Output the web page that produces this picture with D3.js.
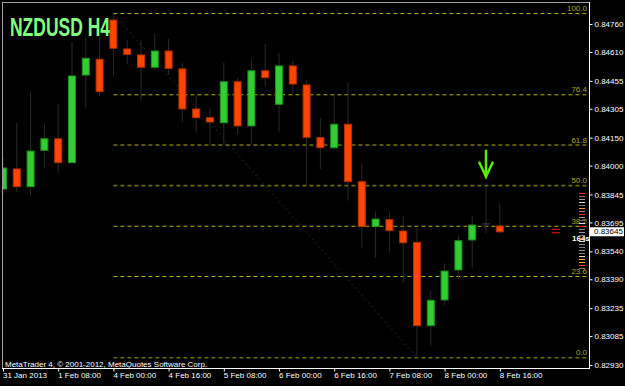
<!DOCTYPE html>
<html>
<head>
<meta charset="utf-8">
<script src="https://cdn.jsdelivr.net/npm/d3@7"></script>
<style>
  body { margin: 0; background: #000; }
  svg { display: block; font-family: "Liberation Sans", Arial, sans-serif; }
</style>
</head>
<body>
<div class="chart"></div>
<script>
// NZDUSD H4 bars, 31 Jan 16:00 -> 8 Feb 16:00
var opens  = [0.83874, 0.83982, 0.83887, 0.84082, 0.84144, 0.84016, 0.84486, 0.84571, 0.84781, 0.84626,
              0.84594, 0.84528, 0.84615, 0.84519, 0.84304, 0.84257, 0.84230, 0.84450, 0.84213, 0.84509,
              0.84329, 0.84535, 0.84433, 0.84150, 0.84096, 0.84222, 0.83914, 0.83673, 0.83710, 0.83649,
              0.83588, 0.83141, 0.83279, 0.83440, 0.83601, 0.83687, 0.83676];
var highs  = [0.84041, 0.84229, 0.84397, 0.84229, 0.84331, 0.84665, 0.84686, 0.84692, 0.84816, 0.84674,
              0.84674, 0.84710, 0.84680, 0.84552, 0.84379, 0.84311, 0.84552, 0.84470, 0.84571, 0.84653,
              0.84606, 0.84563, 0.84459, 0.84254, 0.84379, 0.84445, 0.84012, 0.83754, 0.83749, 0.83731,
              0.83669, 0.83329, 0.83476, 0.83628, 0.83730, 0.83887, 0.83794];
var lows   = [0.83848, 0.83858, 0.83837, 0.83987, 0.83960, 0.84014, 0.84309, 0.84374, 0.84477, 0.84544,
              0.84348, 0.84513, 0.84486, 0.84236, 0.84177, 0.84111, 0.84116, 0.84168, 0.84116, 0.84424,
              0.84182, 0.84374, 0.83896, 0.83980, 0.84084, 0.83812, 0.83559, 0.83506, 0.83538, 0.83372,
              0.82969, 0.83037, 0.83252, 0.83390, 0.83452, 0.83637, 0.83638];
var closes = [0.83987, 0.83887, 0.84078, 0.84144, 0.84016, 0.84481, 0.84576, 0.84397, 0.84630, 0.84597,
              0.84528, 0.84615, 0.84522, 0.84304, 0.84257, 0.84234, 0.84450, 0.84213, 0.84509, 0.84472,
              0.84535, 0.84438, 0.84152, 0.84096, 0.84222, 0.83914, 0.83673, 0.83713, 0.83651, 0.83586,
              0.83141, 0.83277, 0.83434, 0.83597, 0.83681, 0.83687, 0.83645];

var timeLabels = ["31 Jan 2013", "1 Feb 08:00", "4 Feb 00:00", "4 Feb 16:00", "5 Feb 08:00",
                  "6 Feb 00:00", "6 Feb 16:00", "7 Feb 08:00", "8 Feb 00:00", "8 Feb 16:00"];
var labelBars = [0, 4, 8, 12, 16, 20, 24, 28, 32, 36];
var priceTicks = [0.84760, 0.84610, 0.84455, 0.84305, 0.84150, 0.84000, 0.83845,
                  0.83695, 0.83540, 0.83390, 0.83235, 0.83085, 0.82930];

var fibLevels = [100, 76.4, 61.8, 50, 38.2, 23.6, 0];
var fibFrom = 8, fibTo = 30;   // swing high bar, swing low bar
var signalBar = 35;            // bar with the green down arrow
var lastPrice = 0.83645;
var tickCounter = "164s";
var depthColors = ["#ff2020", "#777", "#999", "#ddd", "#777", "#ffa020", "#888", "#ff2020", "#999",
                   "#777", "#ddd", "#ff2020", "#888", "#999", "#777", "#ff2020", "#ddd", "#888",
                   "#777", "#999", "#888", "#ddd", "#ffa020", "#ffa020", "#ff4020", "#777"];

// setup
var W = 625, H = 386;
var chart = {left: 2, top: 2, right: 589, bottom: 368.5};

var x = d3.scaleLinear().domain([0, 36]).range([3, 3 + 36 * 13.8]);
var y = d3.scaleLinear().domain([0.82930, 0.84760]).range([365, 24]);

var bars = opens.map(function(o, i) {
  return {i: i, o: o, h: highs[i], l: lows[i], c: closes[i]};
});

var svg = d3.select(".chart").append("svg")
    .attr("width", W)
    .attr("height", H);

svg.append("rect").attr("width", W).attr("height", H).attr("fill", "#000");

svg.append("clipPath").attr("id", "plot")
  .append("rect")
    .attr("x", 3).attr("y", 3)
    .attr("width", chart.right - 3).attr("height", chart.bottom - 3);

var plot = svg.append("g").attr("clip-path", "url(#plot)");

// fibonacci retracement
var fibHi = highs[fibFrom], fibLo = lows[fibTo];
var fibPrice = function(lv) { return fibLo + (fibHi - fibLo) * lv / 100; };
var dimLevels = [50, 0];

plot.append("line")
    .attr("x1", x(fibFrom)).attr("y1", y(fibHi))
    .attr("x2", x(fibTo)).attr("y2", y(fibLo))
    .attr("stroke", "#2a2a2a")
    .attr("stroke-dasharray", "2,3");

plot.selectAll(".fib")
    .data(fibLevels)
  .enter().append("line")
    .attr("class", "fib")
    .attr("x1", x(fibFrom))
    .attr("x2", chart.right - 1)
    .attr("y1", function(d) { return y(fibPrice(d)); })
    .attr("y2", function(d) { return y(fibPrice(d)); })
    .attr("stroke", function(d) { return dimLevels.indexOf(d) >= 0 ? "#6a6a00" : "#b4b400"; })
    .attr("stroke-width", function(d) { return dimLevels.indexOf(d) >= 0 ? 1.6 : 1; })
    .attr("stroke-dasharray", "4,3");

plot.selectAll(".fibLabel")
    .data(fibLevels)
  .enter().append("text")
    .attr("class", "fibLabel")
    .attr("x", chart.right - 2)
    .attr("y", function(d) { return y(fibPrice(d)) - 2.5; })
    .attr("text-anchor", "end")
    .attr("font-size", 8)
    .attr("fill", "#a8a820")
    .text(function(d) { return d.toFixed(1); });

// wicks
plot.selectAll(".wick")
    .data(bars)
  .enter().append("line")
    .attr("class", "wick")
    .attr("x1", function(d) { return x(d.i); })
    .attr("x2", function(d) { return x(d.i); })
    .attr("y1", function(d) { return y(d.h); })
    .attr("y2", function(d) { return y(d.l); })
    .attr("stroke", "#2a2a2a");

// bodies
plot.selectAll(".body")
    .data(bars.filter(function(d) { return d.o !== d.c; }))
  .enter().append("rect")
    .attr("class", "body")
    .attr("x", function(d) { return x(d.i) - 3.5; })
    .attr("width", 7)
    .attr("y", function(d) { return y(Math.max(d.o, d.c)); })
    .attr("height", function(d) { return Math.abs(y(d.o) - y(d.c)); })
    .attr("fill", function(d) { return d.c > d.o ? "#32cd32" : "#ff4500"; })
    .attr("stroke", function(d) { return d.c > d.o ? "#1f8f1f" : "#b03000"; })
    .attr("stroke-width", 1);

// doji
plot.selectAll(".doji")
    .data(bars.filter(function(d) { return d.o === d.c; }))
  .enter().append("line")
    .attr("class", "doji")
    .attr("x1", function(d) { return x(d.i) - 4; })
    .attr("x2", function(d) { return x(d.i) + 4; })
    .attr("y1", function(d) { return y(d.c); })
    .attr("y2", function(d) { return y(d.c); })
    .attr("stroke", "#444");

// signal arrow
var ax = x(signalBar), atip = y(highs[signalBar]) - 10;
plot.append("path")
    .attr("d", "M" + ax + "," + (atip - 27) + "V" + atip +
               "M" + (ax - 7) + "," + (atip - 15) + "L" + ax + "," + atip + "L" + (ax + 7) + "," + (atip - 15))
    .attr("fill", "none")
    .attr("stroke", "#5ee800")
    .attr("stroke-width", 2.5);

// bid/ask marks and tick strip near the right edge
var ly = y(lastPrice);
[-2.5, 1].forEach(function(off) {
  plot.append("line")
      .attr("x1", 552).attr("x2", 560)
      .attr("y1", ly + off).attr("y2", ly + off)
      .attr("stroke", "#ff1010");
});

plot.selectAll(".depth")
    .data(depthColors)
  .enter().append("line")
    .attr("class", "depth")
    .attr("x1", 579).attr("x2", 585)
    .attr("y1", function(d, i) { return 193.5 + i * 3; })
    .attr("y2", function(d, i) { return 193.5 + i * 3; })
    .attr("stroke", function(d) { return d; });

plot.append("text")
    .attr("x", 572).attr("y", ly + 9)
    .attr("font-size", 8)
    .attr("font-weight", "bold")
    .attr("fill", "#fff")
    .text(tickCounter);

// title and copyright
svg.append("text")
    .attr("x", 10).attr("y", 36)
    .attr("font-size", 26)
    .attr("font-weight", "bold")
    .attr("textLength", 100)
    .attr("lengthAdjust", "spacingAndGlyphs")
    .attr("fill", "#80ff80")
    .text("NZDUSD H4");

svg.append("text")
    .attr("x", 5).attr("y", 366.5)
    .attr("font-size", 8)
    .attr("fill", "#fff")
    .text("MetaTrader 4, \u00a9 2001-2012, MetaQuotes Software Corp.");

// frame
svg.append("line").attr("x1", 2.5).attr("x2", 2.5).attr("y1", 2).attr("y2", chart.bottom)
    .attr("stroke", "#a0a0a0");
svg.append("line").attr("x1", 2).attr("x2", chart.right).attr("y1", 2.5).attr("y2", 2.5)
    .attr("stroke", "#a0a0a0");
svg.append("line").attr("x1", chart.right + 0.5).attr("x2", chart.right + 0.5).attr("y1", 2).attr("y2", chart.bottom + 0.5)
    .attr("stroke", "#fff");
svg.append("line").attr("x1", 2).attr("x2", chart.right + 0.5).attr("y1", chart.bottom).attr("y2", chart.bottom)
    .attr("stroke", "#fff");

// price axis
var yAxis = d3.axisRight(y)
    .tickValues(priceTicks)
    .tickSize(3)
    .tickPadding(2)
    .tickFormat(d3.format(".5f"));

var gy = svg.append("g")
    .attr("transform", "translate(" + (chart.right + 0.5) + ",0)")
    .call(yAxis);
gy.select(".domain").remove();
gy.selectAll("line").attr("stroke", "#fff");
gy.selectAll("text").attr("fill", "#fff").attr("font-size", 8).attr("font-family", null);

// current price box
svg.append("rect")
    .attr("x", 590).attr("y", ly - 4.5)
    .attr("width", 34).attr("height", 9)
    .attr("fill", "#fff");
svg.append("text")
    .attr("x", 594).attr("y", ly)
    .attr("dy", "0.32em")
    .attr("font-size", 8)
    .attr("fill", "#000")
    .text(d3.format(".5f")(lastPrice));

// time axis
var xAxis = d3.axisBottom(x)
    .tickValues(labelBars)
    .tickSize(3)
    .tickFormat(function(d, i) { return timeLabels[i]; });

var gx = svg.append("g")
    .attr("transform", "translate(0," + chart.bottom + ")")
    .call(xAxis);
gx.select(".domain").remove();
gx.selectAll("line").attr("stroke", "#fff");
gx.selectAll("text")
    .attr("fill", "#fff")
    .attr("font-size", 8)
    .attr("font-family", null)
    .attr("text-anchor", "start")
    .attr("x", -0.5)
    .attr("y", 3.5);
</script>
</body>
</html>
